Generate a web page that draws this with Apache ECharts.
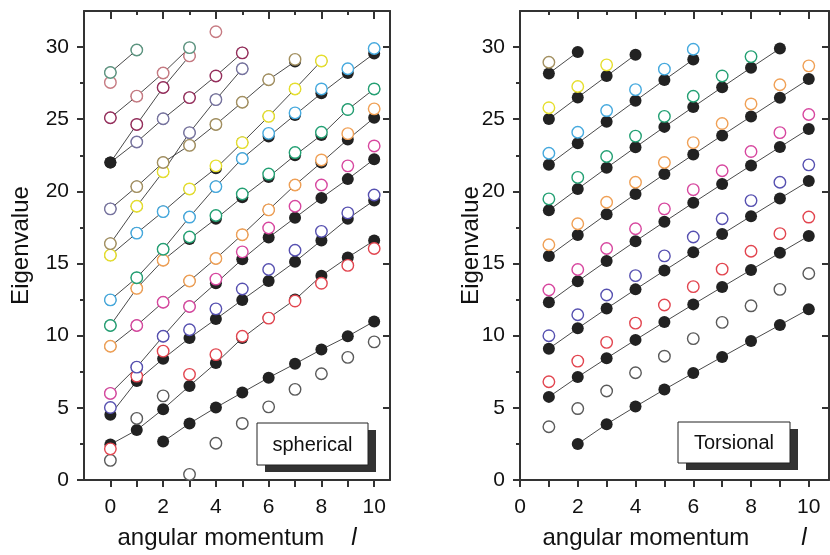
<!DOCTYPE html>
<html><head><meta charset="utf-8">
<script src="https://cdn.jsdelivr.net/npm/echarts@6/dist/echarts.min.js"></script>
<style>html,body{margin:0;padding:0;background:#fff}#c{width:830px;height:555px}</style>
</head><body><div id="c"></div><script>
// ---- spherical modes: angular momentum l = 0..10 ----
const sphL = [0, 1, 2, 3, 4, 5, 6, 7, 8, 9, 10];

// filled branches (values per l, starting at l = 0)
const sphB1  = [null, null, 2.66, 3.92, 5.02, 6.06, 7.09, 8.05, 9.04, 9.96, 10.99];
const sphB2  = [2.46, 3.46, 4.91, 6.52, 8.10, 9.84, 11.22, 12.50, 14.16, 15.42, 16.60];
const sphB3  = [4.52, 6.86, 8.40, 9.84, 11.15, 12.48, 13.79, 15.12, 16.60, 18.10, 19.37];
const sphB4  = [6.00, 7.82, 9.96, 12.02, 13.63, 15.30, 16.80, 18.17, 19.55, 20.85, 22.23];
const sphB5  = [9.27, 10.71, 12.32, 13.79, 15.35, 17.00, 18.72, 20.44, 22.00, 23.60, 25.10];
const sphB6  = [10.71, 13.28, 15.23, 16.70, 18.10, 19.60, 21.00, 22.50, 23.90, 25.67, 27.10];
const sphB7  = [12.48, 14.02, 15.99, 18.22, 20.33, 22.28, 23.80, 25.30, 26.80, 28.20, 29.55];
const sphB8  = [15.58, 17.11, 18.60, 20.17, 21.60, 23.38, 25.20, 27.10, 29.04];
const sphB9  = [16.38, 18.97, 21.36, 24.07, 26.36, 28.50];
const sphB10 = [18.79, 20.33, 22.00, 23.19, 24.64, 26.18, 27.74, 29.00];
const sphB11 = [22.00, 23.42, 25.03, 26.50, 28.00, 29.60];
const sphB12 = [22.00, 24.64, 27.20, 29.39];
const sphB13 = [25.10, 26.60, 28.20, 29.96];
const sphB14 = [28.24, 29.80];

// open symbols, one list per colour (values per l, starting at l = 0)
const sphGray    = [1.36, 4.27, 5.83, 0.39, 2.55, 3.92, 5.07, 6.28, 7.36, 8.50, 9.57];
const sphRed     = [2.16, 7.20, 8.93, 7.32, 8.69, 9.96, 11.22, 12.40, 13.63, 14.87, 16.04];
const sphIndigo  = [5.02, 7.82, 9.96, 10.41, 11.86, 13.24, 14.59, 15.92, 17.23, 18.51, 19.75];
const sphMagenta = [6.00, 10.71, 12.32, 12.02, 13.92, 15.81, 17.46, 18.97, 20.44, 21.77, 23.15];
const sphOrange  = [9.27, 13.28, 15.23, 13.79, 15.35, 17.00, 18.72, 20.44, 22.18, 24.00, 25.72];
const sphGreen   = [10.71, 14.02, 15.99, 16.84, 18.33, 19.82, 21.20, 22.69, 24.10, 25.67, 27.10];
const sphCyan    = [12.48, 17.11, 18.60, 18.22, 20.33, 22.28, 24.02, 25.44, 27.10, 28.50, 29.90];
const sphYellow  = [15.58, 18.97, 21.36, 20.17, 21.77, 23.38, 25.20, 27.10, 29.04];
const sphOlive   = [16.38, 20.33, 22.00, 23.19, 24.64, 26.18, 27.74, 29.15];
const sphSlate   = [18.79, 23.42, 25.03, 24.07, 26.36, 28.50];
const sphMaroon  = [25.10, 24.64, 27.20, 26.50, 28.00, 29.60];
const sphRose    = [27.55, 26.60, 28.20, 29.39, 31.06];
const sphTeal    = [28.24, 29.80, null, 29.96];

// ---- torsional modes: l = 1..10 ----
const torL = [1, 2, 3, 4, 5, 6, 7, 8, 9, 10];

const torB0 = [null, 2.50, 3.87, 5.09, 6.27, 7.41, 8.53, 9.64, 10.74, 11.84];
const torB1 = [5.76, 7.14, 8.44, 9.71, 10.95, 12.17, 13.37, 14.56, 15.74, 16.91];
const torB2 = [9.10, 10.51, 11.88, 13.21, 14.51, 15.79, 17.04, 18.28, 19.51, 20.72];
const torB3 = [12.32, 13.77, 15.18, 16.55, 17.89, 19.21, 20.51, 21.80, 23.07, 24.33];
const torB4 = [15.52, 16.98, 18.42, 19.82, 21.20, 22.55, 23.88, 25.19, 26.49, 27.78];
const torB5 = [18.69, 20.17, 21.63, 23.06, 24.47, 25.85, 27.22, 28.57, 29.90];
const torB6 = [21.85, 23.34, 24.82, 26.28, 27.72, 29.14];
const torB7 = [25.01, 26.51, 27.99, 29.47];
const torB8 = [28.17, 29.66];

const torGray    = [3.69, 4.95, 6.17, 7.43, 8.58, 9.80, 10.92, 12.07, 13.21, 14.31];
const torRed     = [6.81, 8.24, 9.54, 10.87, 12.13, 13.40, 14.61, 15.85, 17.07, 18.22];
const torIndigo  = [10.00, 11.45, 12.82, 14.16, 15.53, 16.84, 18.10, 19.36, 20.63, 21.84];
const torMagenta = [13.17, 14.59, 16.04, 17.41, 18.79, 20.12, 21.43, 22.76, 24.07, 25.33];
const torOrange  = [16.30, 17.76, 19.25, 20.63, 22.00, 23.38, 24.70, 26.06, 27.39, 28.70];
const torGreen   = [19.48, 20.97, 22.42, 23.83, 25.20, 26.59, 28.00, 29.34];
const torCyan    = [22.64, 24.10, 25.60, 27.05, 28.47, 29.85];
const torYellow  = [25.80, 27.27, 28.77];
const torOlive   = [28.95];

// axis ticks and labels
const yTicks = [0, 5, 10, 15, 20, 25, 30];
const yMinor = [2.5, 7.5, 12.5, 17.5, 22.5, 27.5];
const xTicks = [0, 1, 2, 3, 4, 5, 6, 7, 8, 9, 10];
const xMajor = [0, 2, 4, 6, 8, 10];
const xMinor = [1, 3, 5, 7, 9];

const FONT = 'Liberation Sans, Arial, Helvetica, sans-serif';
const AX = '#333';

function pairs(ls, vals) {
  const out = [];
  vals.forEach((v, i) => { if (v != null) out.push([ls[i], v]); });
  return out;
}

function branch(ls, vals, g) {
  return {
    type: 'line', xAxisIndex: g * 3, yAxisIndex: g * 3, data: pairs(ls, vals),
    symbol: 'circle', symbolSize: 12, showAllSymbol: true,
    lineStyle: { color: '#4a4a4a', width: 1 },
    itemStyle: { color: '#222' }, z: 2, silent: true
  };
}

function open(ls, vals, col, g) {
  return {
    type: 'scatter', xAxisIndex: g * 3, yAxisIndex: g * 3, data: pairs(ls, vals),
    symbol: 'circle', symbolSize: 11.5,
    itemStyle: { color: '#fff', borderColor: col, borderWidth: 1.4, opacity: 1 },
    z: 3, silent: true
  };
}

function xAxes(g, min, max, nameRich) {
  return [
    { gridIndex: g, type: 'value', min: min, max: max, position: 'bottom',
      axisLine: { show: true, onZero: false, lineStyle: { color: AX, width: 2 } },
      axisTick: { show: true, inside: false, length: 7, customValues: xTicks, lineStyle: { color: AX, width: 2 } },
      axisLabel: { customValues: xMajor, margin: 17, fontSize: 21, color: '#111', fontFamily: FONT },
      splitLine: { show: false },
      name: nameRich, nameLocation: 'middle', nameGap: 46, nameMoveOverlap: false,
      nameTextStyle: { fontSize: 24, color: '#111', fontFamily: FONT,
        rich: { n: { fontSize: 24, fontFamily: FONT, color: '#111' },
                s: { width: g === 0 ? 27 : 52 },
                i: { fontSize: 24, fontFamily: FONT, fontStyle: 'italic', color: '#111' } } } },
    { gridIndex: g, type: 'value', min: min, max: max, position: 'top',
      axisLine: { show: true, onZero: false, lineStyle: { color: AX, width: 2 } },
      axisTick: { show: true, inside: true, length: 8, customValues: xMajor, lineStyle: { color: AX, width: 2 } },
      axisLabel: { show: false }, splitLine: { show: false } },
    { gridIndex: g, type: 'value', min: min, max: max, position: 'top',
      axisLine: { show: false, onZero: false },
      axisTick: { show: true, inside: true, length: 4, customValues: xMinor, lineStyle: { color: AX, width: 2 } },
      axisLabel: { show: false }, splitLine: { show: false } }
  ];
}

function yAxes(g, gap) {
  return [
    { gridIndex: g, type: 'value', min: 0, max: 32.5, position: 'left',
      axisLine: { show: true, onZero: false, lineStyle: { color: AX, width: 2 } },
      axisTick: { show: true, inside: false, length: 7, customValues: yTicks, lineStyle: { color: AX, width: 2 } },
      axisLabel: { customValues: yTicks, margin: 15, fontSize: 21, color: '#111', fontFamily: FONT },
      splitLine: { show: false },
      name: 'Eigenvalue', nameLocation: 'middle', nameGap: gap, nameMoveOverlap: false,
      nameTextStyle: { fontSize: 24, color: '#111', fontFamily: FONT } },
    { gridIndex: g, type: 'value', min: 0, max: 32.5, position: 'left',
      axisLine: { show: false, onZero: false },
      axisTick: { show: true, inside: false, length: 4, customValues: yMinor, lineStyle: { color: AX, width: 2 } },
      axisLabel: { show: false }, splitLine: { show: false } },
    { gridIndex: g, type: 'value', min: 0, max: 32.5, position: 'right',
      axisLine: { show: true, onZero: false, lineStyle: { color: AX, width: 2 } },
      axisTick: { show: true, inside: true, length: 7, customValues: yTicks, lineStyle: { color: AX, width: 2 } },
      axisLabel: { show: false }, splitLine: { show: false } }
  ];
}

const C = {
  gray: '#5a5a5a', red: '#e2454f', indigo: '#5650b0', magenta: '#d7479f',
  orange: '#f0a055', green: '#23a073', cyan: '#45a9de', yellow: '#e6df2c',
  olive: '#a39060', slate: '#76739f', maroon: '#962e5c', rose: '#c67a82', teal: '#5c9580'
};

const series = [];
[sphB1, sphB2, sphB3, sphB4, sphB5, sphB6, sphB7, sphB8, sphB9, sphB10, sphB11, sphB12, sphB13, sphB14]
  .forEach(b => series.push(branch(sphL, b, 0)));
[[sphGray, C.gray], [sphRed, C.red], [sphIndigo, C.indigo], [sphMagenta, C.magenta],
 [sphOrange, C.orange], [sphGreen, C.green], [sphCyan, C.cyan], [sphYellow, C.yellow],
 [sphOlive, C.olive], [sphSlate, C.slate], [sphMaroon, C.maroon], [sphRose, C.rose], [sphTeal, C.teal]]
  .forEach(([v, c]) => series.push(open(sphL, v, c, 0)));

[torB0, torB1, torB2, torB3, torB4, torB5, torB6, torB7, torB8]
  .forEach(b => series.push(branch(torL, b, 1)));
[[torGray, C.gray], [torRed, C.red], [torIndigo, C.indigo], [torMagenta, C.magenta],
 [torOrange, C.orange], [torGreen, C.green], [torCyan, C.cyan], [torYellow, C.yellow], [torOlive, C.olive]]
  .forEach(([v, c]) => series.push(open(torL, v, c, 1)));

function tag(x, y, w, h, text) {
  return [
    { type: 'rect', shape: { x: x + 8, y: y + 7, width: w, height: h }, style: { fill: '#333' }, z: 10 },
    { type: 'rect', shape: { x: x, y: y, width: w, height: h }, style: { fill: '#fff', stroke: '#222', lineWidth: 1 }, z: 11 },
    { type: 'text', x: x + w / 2, y: y + h / 2 + 1, style: { text: text, fontSize: 20, fontFamily: FONT, fill: '#111', align: 'center', verticalAlign: 'middle' }, z: 12 }
  ];
}

const chart = echarts.init(document.getElementById('c'), null, { renderer: 'canvas' });
chart.setOption({
  animation: false,
  backgroundColor: '#fff',
  grid: [
    { left: 84, top: 11, width: 306, height: 472 },
    { left: 520, top: 11, width: 309, height: 472 }
  ],
  xAxis: [].concat(
    xAxes(0, -1, 10.6, '{n|angular momentum}{s|}{i|l}'),
    xAxes(1, 0, 10.7, '{n|angular momentum}{s|}{i|l}')
  ),
  yAxis: [].concat(yAxes(0, 51), yAxes(1, 37)),
  series: series,
  graphic: [].concat(
    tag(257, 423, 111, 42, 'spherical'),
    tag(678, 422, 112, 41, 'Torsional')
  )
});
</script></body></html>
